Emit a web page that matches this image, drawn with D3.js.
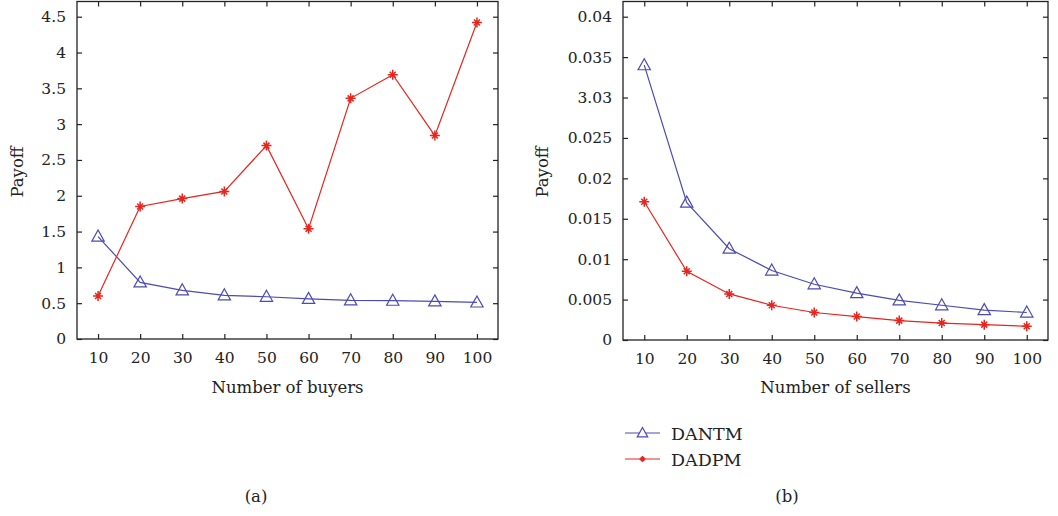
<!DOCTYPE html>
<html>
<head>
<meta charset="utf-8">
<script src="https://cdn.jsdelivr.net/npm/d3@7"></script>
<style>
  body { margin: 0; background: #fff; }
  svg text { font-family: "DejaVu Serif", "Liberation Serif", serif; fill: #222; }
</style>
</head>
<body>
<svg id="chart" width="1058" height="516"></svg>
<script>
// x categories, shared by both panels
var xValues = [10, 20, 30, 40, 50, 60, 70, 80, 90, 100];

// panel (a): payoff vs number of buyers
var buyersDANTM = [1.43, 0.79, 0.68, 0.61, 0.59, 0.56, 0.54, 0.535, 0.525, 0.51];
var buyersDADPM = [0.60, 1.85, 1.96, 2.06, 2.70, 1.54, 3.36, 3.69, 2.84, 4.42];
var buyersTicks = [0, 0.5, 1, 1.5, 2, 2.5, 3, 3.5, 4, 4.5];
var buyersTickLabels = ["0", "0.5", "1", "1.5", "2", "2.5", "3", "3.5", "4", "4.5"];

// panel (b): payoff vs number of sellers
var sellersDANTM = [0.0340, 0.0170, 0.0113, 0.0086, 0.0069, 0.0058, 0.0049, 0.0043, 0.0037, 0.0034];
var sellersDADPM = [0.0171, 0.0085, 0.0057, 0.0043, 0.0034, 0.0029, 0.0024, 0.0021, 0.0019, 0.0017];
var sellersTicks = [0, 0.005, 0.01, 0.015, 0.02, 0.025, 0.03, 0.035, 0.04];
// the source figure really prints "3.03" for the 0.03 tick
var sellersTickLabels = ["0", "0.005", "0.01", "0.015", "0.02", "0.025", "3.03", "0.035", "0.04"];

var seriesNames = ["DANTM", "DADPM"];

var blue = "#4b4bb4";
var red = "#e5261f";

var svg = d3.select("#chart");

function triangle(r) {
  // hollow triangle, point up
  return "M0," + (-r) + "L" + (r * 0.95) + "," + (r * 0.7) + "L" + (-r * 0.95) + "," + (r * 0.7) + "Z";
}
function star(r) {
  var d = r * 0.6;
  return "M" + (-r) + ",0H" + r + "M0," + (-r) + "V" + r +
    "M" + (-d) + "," + (-d) + "L" + d + "," + d + "M" + (-d) + "," + d + "L" + d + "," + (-d);
}

function drawPanel(opt) {
  var x = d3.scaleLinear().domain([5, 105]).range([opt.left, opt.right]);
  var y = d3.scaleLinear().domain([0, opt.yTop]).range([opt.bottom, opt.yTopPx]);

  var g = svg.append("g");

  // frame
  g.append("rect")
    .attr("x", opt.left).attr("y", 1.5)
    .attr("width", opt.right - opt.left).attr("height", opt.bottom - 1.5)
    .attr("fill", "none").attr("stroke", "#222").attr("stroke-width", 1.3);

  // y axis with inward ticks, mirrored on the right
  var yAxis = d3.axisLeft(y).tickValues(opt.yTicks)
    .tickFormat(function(d, i) { return opt.yLabels[i]; })
    .tickSizeInner(-5).tickSizeOuter(0).tickPadding(11);
  var ya = g.append("g").attr("transform", "translate(" + opt.left + ",0)").call(yAxis);
  ya.select(".domain").remove();
  ya.selectAll("text").style("font-size", "15.5px").attr("font-family", null);
  ya.selectAll("line").attr("stroke", "#222").attr("stroke-width", 1.2);

  var yAxisR = d3.axisRight(y).tickValues(opt.yTicks).tickFormat("").tickSizeInner(-5).tickSizeOuter(0);
  var yr = g.append("g").attr("transform", "translate(" + opt.right + ",0)").call(yAxisR);
  yr.select(".domain").remove();
  yr.selectAll("line").attr("stroke", "#222").attr("stroke-width", 1.2);

  // x axis, inward ticks bottom and top
  var xAxis = d3.axisBottom(x).tickValues(xValues).tickSizeInner(-5).tickSizeOuter(0).tickPadding(13);
  var xa = g.append("g").attr("transform", "translate(0," + opt.bottom + ")").call(xAxis);
  xa.select(".domain").remove();
  xa.selectAll("text").style("font-size", "15.5px").attr("font-family", null);
  xa.selectAll("line").attr("stroke", "#222").attr("stroke-width", 1.2);

  var xAxisT = d3.axisTop(x).tickValues(xValues).tickFormat("").tickSizeInner(-5).tickSizeOuter(0);
  var xt = g.append("g").attr("transform", "translate(0,1.5)").call(xAxisT);
  xt.select(".domain").remove();
  xt.selectAll("line").attr("stroke", "#222").attr("stroke-width", 1.2);

  // axis titles
  g.append("text")
    .attr("x", (opt.left + opt.right) / 2).attr("y", 393)
    .attr("text-anchor", "middle").style("font-size", "16.5px")
    .text(opt.xTitle);
  g.append("text")
    .attr("transform", "translate(" + opt.yTitleX + "," + 172 + ") rotate(-90)")
    .attr("text-anchor", "middle").style("font-size", "16.5px")
    .text("Payoff");

  // caption
  g.append("text")
    .attr("x", opt.captionX).attr("y", 502)
    .attr("text-anchor", "middle").style("font-size", "16.5px")
    .text(opt.caption);

  var line = d3.line().x(function(d, i) { return x(xValues[i]); }).y(function(d) { return y(d); });

  // DANTM
  g.append("path").datum(opt.dantm).attr("d", line)
    .attr("fill", "none").attr("stroke", blue).attr("stroke-width", 1.2);
  g.selectAll(".tri").data(opt.dantm).enter().append("path")
    .attr("transform", function(d, i) { return "translate(" + x(xValues[i]) + "," + y(d) + ")"; })
    .attr("d", triangle(6.5))
    .attr("fill", "none").attr("stroke", blue).attr("stroke-width", 1.2);

  // DADPM
  g.append("path").datum(opt.dadpm).attr("d", line)
    .attr("fill", "none").attr("stroke", red).attr("stroke-width", 1.2);
  g.selectAll(".star").data(opt.dadpm).enter().append("path")
    .attr("transform", function(d, i) { return "translate(" + x(xValues[i]) + "," + y(d) + ")"; })
    .attr("d", star(5))
    .attr("fill", "none").attr("stroke", red).attr("stroke-width", 1.5);
}

drawPanel({
  left: 77, right: 498, bottom: 339, yTopPx: 16.7, yTop: 4.5,
  yTicks: buyersTicks, yLabels: buyersTickLabels,
  dantm: buyersDANTM, dadpm: buyersDADPM,
  xTitle: "Number of buyers", yTitleX: 23, caption: "(a)", captionX: 256
});

drawPanel({
  left: 623, right: 1048, bottom: 340, yTopPx: 16.7, yTop: 0.04,
  yTicks: sellersTicks, yLabels: sellersTickLabels,
  dantm: sellersDANTM, dadpm: sellersDADPM,
  xTitle: "Number of sellers", yTitleX: 548, caption: "(b)", captionX: 787
});

// legend
var legend = svg.append("g").attr("transform", "translate(625,433)");
var legendColors = [blue, red];
seriesNames.forEach(function(name, i) {
  var row = legend.append("g").attr("transform", "translate(0," + (i * 26) + ")");
  row.append("line").attr("x1", 0).attr("x2", 35).attr("y1", 0).attr("y2", 0)
    .attr("stroke", legendColors[i]).attr("stroke-width", 1.2);
  if (i === 0) {
    row.append("path").attr("transform", "translate(17.5,0)").attr("d", triangle(5.5))
      .attr("fill", "#fff").attr("stroke", blue).attr("stroke-width", 1.2);
  } else {
    row.append("path").attr("transform", "translate(17.5,0)").attr("d", star(3))
      .attr("fill", "none").attr("stroke", red).attr("stroke-width", 1.6);
  }
  row.append("text").attr("x", 46).attr("y", 6.5).style("font-size", "17.5px").text(name);
});
</script>
</body>
</html>
